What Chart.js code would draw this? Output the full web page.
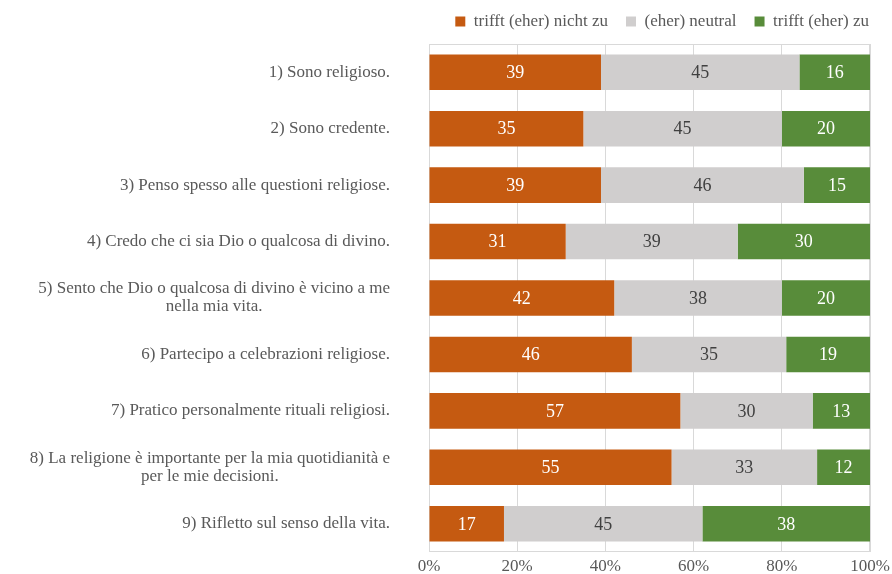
<!DOCTYPE html>
<html>
<head>
<meta charset="utf-8">
<script src="https://cdn.jsdelivr.net/npm/chart.js@4.4.1/dist/chart.umd.min.js"></script>
<style>
  html, body { margin: 0; padding: 0; background: #fff; }
  #wrap { width: 892px; height: 574px; }
</style>
</head>
<body>
<div id="wrap"><canvas id="barChart"></canvas></div>
<script>
// items (multi-line ones split in arrays)
const items = [
    ['1) Sono religioso.'],
    ['2) Sono credente.'],
    ['3) Penso spesso alle questioni religiose.'],
    ['4) Credo che ci sia Dio o qualcosa di divino.'],
    ['5) Sento che Dio o qualcosa di divino è vicino a me', 'nella mia vita.'],
    ['6) Partecipo a celebrazioni religiose.'],
    ['7) Pratico personalmente rituali religiosi.'],
    ['8) La religione è importante per la mia quotidianità e', 'per le mie decisioni.'],
    ['9) Rifletto sul senso della vita.']
];
const seriesNames = ['trifft (eher) nicht zu', '(eher) neutral', 'trifft (eher) zu'];
const notTrue = [39, 35, 39, 31, 42, 46, 57, 55, 17];
const neutral = [45, 45, 46, 39, 38, 35, 30, 33, 45];
const isTrue  = [16, 20, 15, 30, 20, 19, 13, 12, 38];
const xTicks = [0, 20, 40, 60, 80, 100];

const serif = '"Liberation Serif", "Times New Roman", serif';
const textGrey = '#595959';

// legend kept on one row, pushed to the right edge
const legendFit = {
    id: 'legendFit',
    beforeInit(chart) {
        const fit = chart.legend.fit;
        chart.legend.fit = function () {
            this.maxWidth = Math.max(this.maxWidth, 600);
            fit.bind(chart.legend)();
            this.height += 4;
        };
    },
    afterLayout(chart) {
        chart.legend.left += 17;
        chart.legend.right += 17;
    }
};

// category labels: right edge fixed, extra lines centered under the first
const itemLabels = {
    id: 'itemLabels',
    afterDraw(chart) {
        const ctx = chart.ctx;
        const y = chart.scales.y;
        const right = chart.chartArea.left - 39;
        const lh = 18;
        ctx.save();
        ctx.font = '17px ' + serif;
        ctx.fillStyle = textGrey;
        ctx.textAlign = 'center';
        ctx.textBaseline = 'middle';
        items.forEach((lines, i) => {
            const w = Math.max(...lines.map(l => ctx.measureText(l).width));
            const cx = right - w / 2;
            const cy = y.getPixelForValue(i);
            const top = cy - (lines.length - 1) * lh / 2;
            lines.forEach((l, k) => ctx.fillText(l, cx, top + k * lh));
        });
        ctx.restore();
    }
};

// numbers inside the bar segments
const valueLabels = {
    id: 'valueLabels',
    afterDatasetsDraw(chart) {
        const ctx = chart.ctx;
        ctx.save();
        ctx.font = '18px ' + serif;
        ctx.textAlign = 'center';
        ctx.textBaseline = 'middle';
        chart.data.datasets.forEach((ds, d) => {
            const meta = chart.getDatasetMeta(d);
            ctx.fillStyle = d === 1 ? '#404040' : '#ffffff';
            meta.data.forEach((bar, i) => {
                const p = bar.getProps(['x', 'y', 'base'], true);
                ctx.fillText(ds.data[i], (p.x + p.base) / 2, p.y + 1);
            });
        });
        ctx.restore();
    }
};

// light frame round the plot area
const plotFrame = {
    id: 'plotFrame',
    beforeDatasetsDraw(chart) {
        const a = chart.chartArea;
        const ctx = chart.ctx;
        ctx.save();
        ctx.strokeStyle = '#D9D9D9';
        ctx.lineWidth = 1;
        ctx.strokeRect(a.left + 0.5, a.top + 0.5, a.width - 1, a.height - 1);
        ctx.restore();
    }
};

new Chart(document.getElementById('barChart'), {
    type: 'bar',
    data: {
        labels: items.map(l => l.join(' ')),
        datasets: [
            { label: seriesNames[0], data: notTrue, backgroundColor: '#C55A11' },
            { label: seriesNames[1], data: neutral, backgroundColor: '#D0CECE' },
            { label: seriesNames[2], data: isTrue,  backgroundColor: '#588C3A' }
        ]
    },
    options: {
        indexAxis: 'y',
        responsive: true,
        maintainAspectRatio: false,
        animation: false,
        layout: { padding: { left: 421, right: 22, top: -5, bottom: -7 } },
        datasets: { bar: { categoryPercentage: 1, barPercentage: 0.63, borderWidth: 0 } },
        scales: {
            x: {
                stacked: true,
                min: 0,
                max: 100,
                afterBuildTicks: s => { s.ticks = xTicks.map(v => ({ value: v })); },
                afterFit: s => { s.paddingLeft = 0; s.paddingRight = 0; },
                grid: { color: '#D9D9D9', drawTicks: false },
                border: { display: false },
                ticks: {
                    padding: 6,
                    color: textGrey,
                    font: { family: serif, size: 17, lineHeight: 1 },
                    callback: v => v + '%'
                }
            },
            y: {
                stacked: true,
                grid: { display: false },
                border: { display: false },
                ticks: { display: false }
            }
        },
        plugins: {
            legend: {
                position: 'top',
                align: 'end',
                labels: {
                    boxWidth: 10,
                    boxHeight: 10,
                    padding: 18,
                    color: textGrey,
                    font: { family: serif, size: 17 }
                }
            },
            tooltip: { enabled: false }
        }
    },
    plugins: [legendFit, plotFrame, valueLabels, itemLabels]
});
</script>
</body>
</html>
